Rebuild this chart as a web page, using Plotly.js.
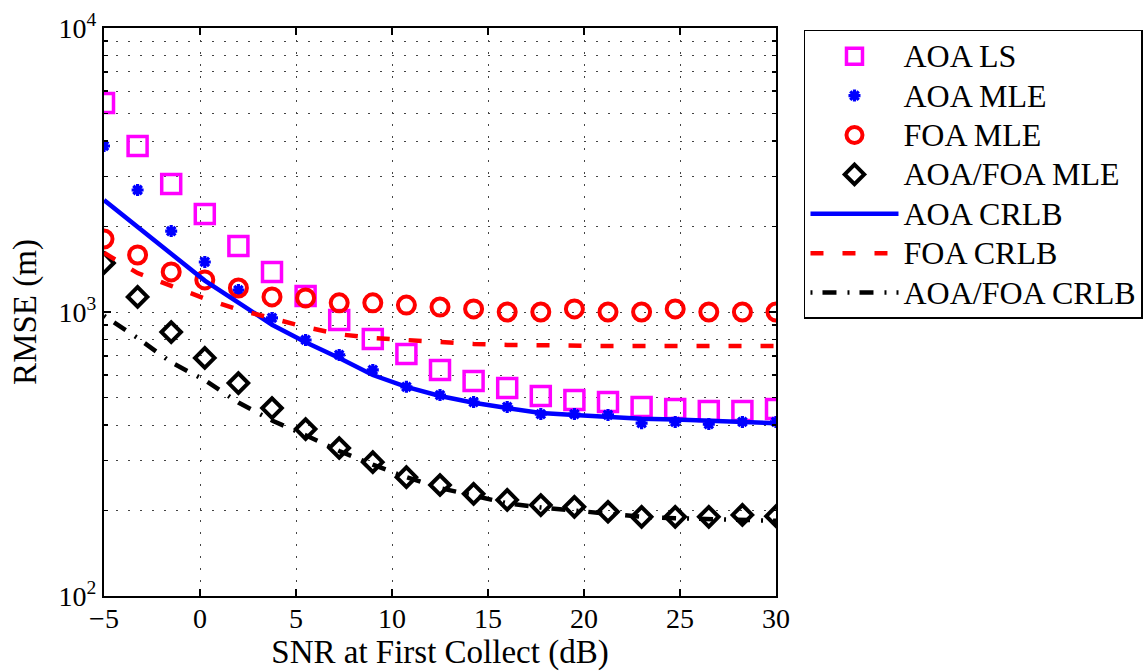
<!DOCTYPE html>
<html>
<head>
<meta charset="utf-8">
<script src="https://cdn.plot.ly/plotly-3.0.1.min.js"></script>
<style>html,body{margin:0;padding:0;background:#fff;}#chart{width:1143px;height:671px;}</style>
</head>
<body>
<div id="chart"></div>
<script>
const snr = [-5, -3.25, -1.5, 0.25, 2, 3.75, 5.5, 7.25, 9, 10.75, 12.5, 14.25, 16, 17.75, 19.5, 21.25, 23, 24.75, 26.5, 28.25, 30];
const aoaLS = [5445, 3842, 2823, 2213, 1708, 1384, 1138, 938, 804, 711, 625, 571, 540, 506, 490, 482, 463, 455, 448, 448, 455];
const aoaMLE = [3842, 2689, 1928, 1500, 1195, 953, 797, 706, 625, 545, 510, 482, 463, 437, 437, 434, 406, 410, 403, 410, 410];
const foaMLE = [1807, 1588, 1384, 1297, 1215, 1130, 1121, 1077, 1077, 1058, 1041, 1025, 1000, 1000, 1025, 1000, 1000, 1025, 1000, 1000, 1000];
const jointMLE = [1488, 1130, 850, 689, 562, 459, 387, 332, 296, 262, 246, 229, 218, 209, 206, 198, 190, 190, 190, 193, 191];
const aoaCRLB = [2477, 1990, 1600, 1290, 1080, 902, 782, 689, 600, 545, 506, 479, 459, 441, 434, 427, 421, 418, 414, 410, 406];
const foaCRLB = [1616, 1371, 1236, 1115, 1020, 950, 885, 835, 810, 797, 783, 772, 766, 762, 760, 759, 759, 759, 759, 759, 759];
const jointCRLB = [970, 810, 665, 575, 480, 415, 368, 324, 290, 262, 240, 226, 212, 205, 200, 194, 190, 188, 187, 185, 184];

const seriesNames = ['AOA LS', 'AOA MLE', 'FOA MLE', 'AOA/FOA MLE', 'AOA CRLB', 'FOA CRLB', 'AOA/FOA CRLB'];

const xTickVals = [-5, 0, 5, 10, 15, 20, 25, 30];
const xTickText = ['\u22125', '0', '5', '10', '15', '20', '25', '30'];
const yTickVals = [100, 1000, 10000];
const yTickText = ['10<sup>2</sup>', '10<sup>3</sup>', '10<sup>4</sup>'];
const yMinorVals = [200, 300, 400, 500, 600, 700, 800, 900, 2000, 3000, 4000, 5000, 6000, 7000, 8000, 9000];

const FONT = 'Liberation Serif, Times New Roman, serif';
const legName = (s) => '<span style="font-size:32px">' + s + '</span>';

const traces = [
  {x: snr, y: aoaLS, name: legName(seriesNames[0]), mode: 'markers', type: 'scatter',
   marker: {symbol: 'square-open', size: 19, color: '#FF00FF', line: {width: 3.5, color: '#FF00FF'}}},
  {x: snr, y: aoaMLE, name: legName(seriesNames[1]), mode: 'markers', type: 'scatter',
   marker: {symbol: 'asterisk-open', size: 10, color: '#0000FF', line: {width: 3.2, color: '#0000FF'}}},
  {x: snr, y: foaMLE, name: legName(seriesNames[2]), mode: 'markers', type: 'scatter',
   marker: {symbol: 'circle-open', size: 17, color: '#FF0000', line: {width: 4, color: '#FF0000'}}},
  {x: snr, y: jointMLE, name: legName(seriesNames[3]), mode: 'markers', type: 'scatter',
   marker: {symbol: 'diamond-open', size: 15, color: '#000000', line: {width: 4, color: '#000000'}}},
  {x: snr, y: aoaCRLB, name: legName(seriesNames[4]), mode: 'lines', type: 'scatter',
   line: {color: '#0000FF', width: 4.5}},
  {x: snr, y: foaCRLB, name: legName(seriesNames[5]), mode: 'lines', type: 'scatter',
   line: {color: '#FF0000', width: 4.5, dash: '13px,19px'}},
  {x: snr, y: jointCRLB, name: legName(seriesNames[6]), mode: 'lines', type: 'scatter',
   line: {color: '#000000', width: 4.5, dash: '2px,10px,14px,11px'}}
];

const layout = {
  width: 1143, height: 671,
  margin: {l: 104, r: 367, t: 28, b: 75, pad: 0},
  paper_bgcolor: '#ffffff', plot_bgcolor: '#ffffff',
  font: {family: FONT, color: '#000000', size: 27},
  showlegend: true,
  legend: {
    xref: 'container', yref: 'container',
    x: 0.7034, y: 0.9553, xanchor: 'left', yanchor: 'top',
    bordercolor: '#000000', borderwidth: 1.5, bgcolor: '#ffffff',
    font: {family: FONT, size: 28, color: '#000000'},
    itemwidth: 88, tracegroupgap: 0
  },
  xaxis: {
    range: [-5, 30], tickmode: 'array', tickvals: xTickVals, ticktext: xTickText,
    ticks: 'inside', ticklen: 7, tickwidth: 1.5, tickcolor: '#000000',
    showline: true, linecolor: '#000000', linewidth: 2, mirror: 'ticks',
    showgrid: true, gridcolor: '#444444', gridwidth: 1, griddash: '1.5px,10.5px',
    zeroline: false, ticklabelstandoff: -4,
    tickfont: {family: FONT, size: 28, color: '#000000'},
    title: {text: 'SNR at First Collect (dB)', font: {family: FONT, size: 33, color: '#000000'}, standoff: 6}
  },
  yaxis: {
    type: 'log', range: [2, 4], tickmode: 'array', tickvals: yTickVals, ticktext: yTickText,
    ticks: 'inside', ticklen: 7, tickwidth: 1.5, tickcolor: '#000000',
    showline: true, linecolor: '#000000', linewidth: 2, mirror: 'ticks',
    showgrid: true, gridcolor: '#444444', gridwidth: 1, griddash: '1.5px,10.5px',
    zeroline: false,
    tickfont: {family: FONT, size: 28, color: '#000000'},
    title: {text: 'RMSE (m)', font: {family: FONT, size: 33, color: '#000000'}, standoff: 12},
    minor: {tickmode: 'array', tickvals: yMinorVals, ticks: 'inside', ticklen: 4, tickwidth: 1.5, tickcolor: '#000000',
            showgrid: true, gridcolor: '#444444', gridwidth: 1, griddash: '1.5px,10.5px'}
  }
};

Plotly.newPlot('chart', traces, layout, {displayModeBar: false, staticPlot: true});
</script>
</body>
</html>
